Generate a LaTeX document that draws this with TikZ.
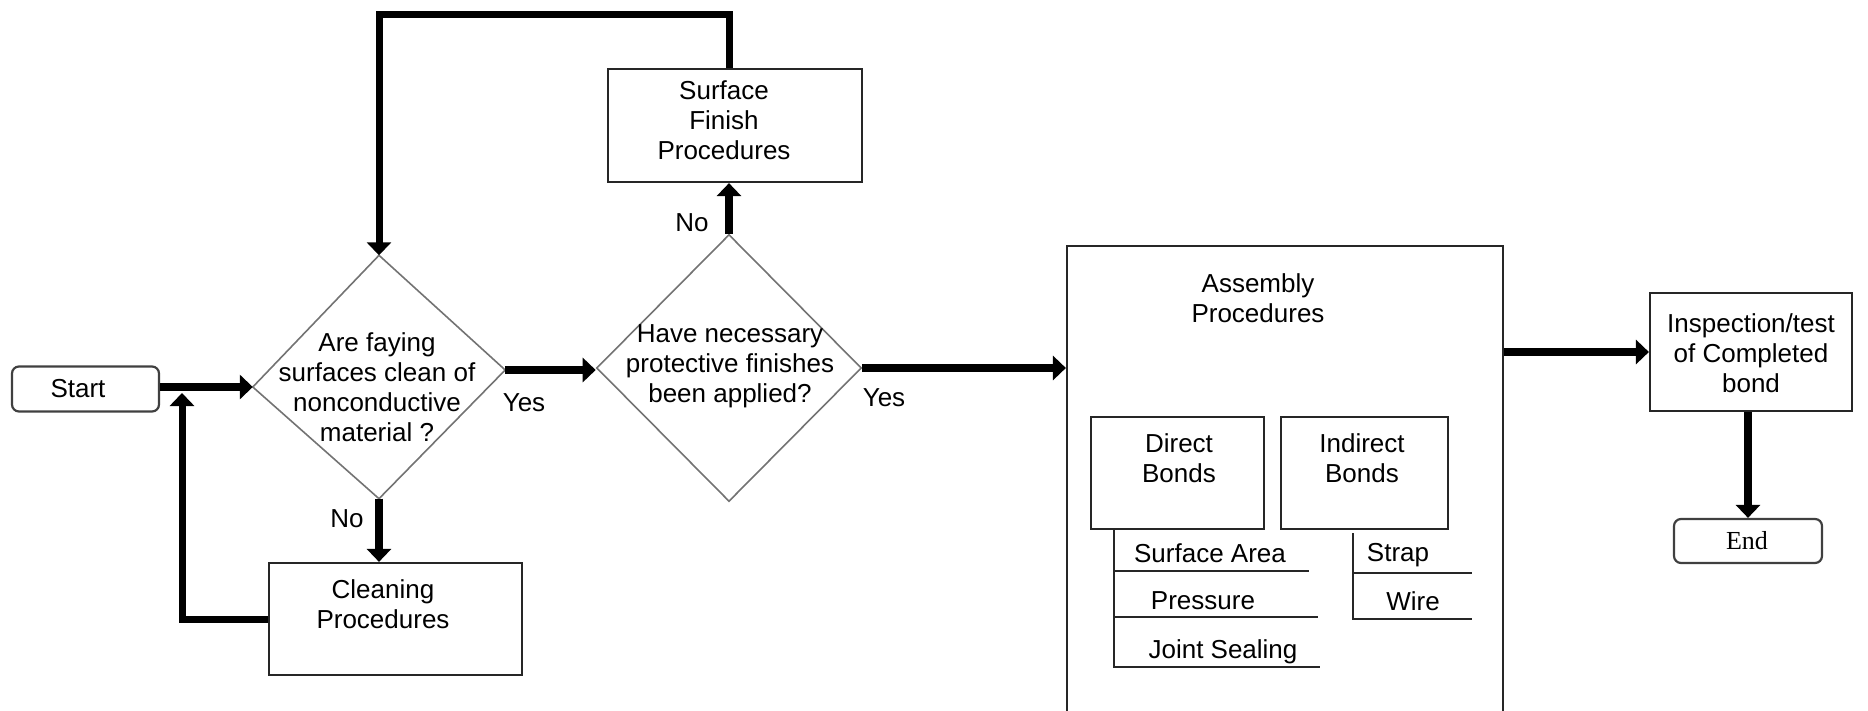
\documentclass[tikz,border=0pt]{standalone}
\usepackage{fontspec}
\setmainfont{Liberation Sans}
\newfontfamily\serifend{Liberation Serif}
\usetikzlibrary{arrows.meta,shapes.geometric}
\begin{document}
\begin{tikzpicture}[x=1pt,y=-1pt,
  txt/.style={font=\fontsize{26}{30}\selectfont, align=center, inner sep=0pt},
  box/.style={draw=black!85, line width=2.2pt, rectangle, inner sep=0pt},
  term/.style={box, draw=black!75, rounded corners=7pt},
  dia/.style={draw=black!55, line width=1.6pt, line join=miter},
  flow/.style={line width=8pt, -{Triangle[width=24pt,length=13pt]}},
  lst/.style={draw=black!85, line width=2.2pt}
]
\useasboundingbox (0,0) rectangle (1868,711);

% terminals
\node[term, minimum width=147pt, minimum height=45pt] (start) at (85.5,389) {};
\node[txt] (startt) at (78,389) {Start};
\node[term, minimum width=148pt, minimum height=44pt] (end) at (1748,541) {};
\node[txt, font=\serifend\fontsize{26}{30}\selectfont] (endt) at (1747,541) {End};

% decision 1
\node[diamond, draw=none, inner sep=0pt, minimum width=252pt, minimum height=243pt] (d1) at (379,377) {};
\coordinate (d1w) at ([yshift=-10pt]d1.west);
\coordinate (d1e) at ([yshift=7pt]d1.east);
\draw[dia] (d1w) -- (d1.north) -- (d1e) -- (d1.south) -- cycle;
\node[txt] (d1t) at (377,387) {Are faying\\surfaces clean of\\nonconductive\\material ?};

% decision 2
\node[diamond, dia, draw, inner sep=0pt, minimum width=265pt, minimum height=267pt] (d2) at (729,368) {};
\node[txt] (d2t) at (730,366) {Have necessary\\protective finishes\\been applied?};

% process boxes
\node[box, minimum width=253pt, minimum height=112pt] (clean) at (395.5,619) {};
\node[txt] (cleant) at (383,604) {Cleaning\\Procedures};
\node[box, minimum width=254pt, minimum height=113pt] (sf) at (735,125.5) {};
\node[txt] (sft) at (724,120) {Surface\\Finish\\Procedures};
\node[box, minimum width=436pt, minimum height=480pt] (asm) at (1285,486) {};
\node[txt] (asmt) at (1258,298) {Assembly\\Procedures};
\node[box, minimum width=202pt, minimum height=118pt] (insp) at (1751,352) {};
\node[txt] (inspt) at (1751,353) {Inspection/test\\of Completed\\bond};

% sub boxes
\node[box, minimum width=173pt, minimum height=112pt] (direct) at (1177.5,473) {};
\node[txt] (directt) at (1179,458) {Direct\\Bonds};
\node[box, minimum width=167pt, minimum height=112pt] (indirect) at (1364.5,473) {};
\node[txt] (indirectt) at (1362,458) {Indirect\\Bonds};

% lists
\coordinate (dl) at (1114,0);
\coordinate (il) at (1353,0);
\draw[lst] (direct.south -| dl) -- (1114,667) -- (1320,667);
\draw[lst] (1114,571) -- (1309,571);
\draw[lst] (1114,617) -- (1318,617);
\draw[lst] (1353,533) -- (1353,619) -- (1472,619);
\draw[lst] (1353,573) -- (1472,573);
\node[txt] (sa) at (1210,553) {Surface Area};
\node[txt] (pr) at (1203,601) {Pressure};
\node[txt] (js) at (1223,652) {Joint Sealing};
\node[txt] (st) at (1398,555) {Strap};
\node[txt] (wi) at (1413,601) {Wire};

% connectors
\coordinate (jn) at (182,393);
\coordinate (topy) at (0,15);
\draw[flow] (start.east |- d1w) -- (d1w);
\draw[flow] (d1e) -- (d1e -| d2.west);
\draw[flow] (d2.east) -- (d2.east -| asm.west);
\draw[flow] (insp.west -| asm.east) -- (insp.west);
\draw[flow] (end.north |- insp.south) -- (end.north);
\draw[flow] (d1.south) -- (d1.south |- clean.north);
\draw[flow] (d2.north) -- (d2.north |- sf.south);
\draw[flow, line width=7pt] (clean.west) -| (jn);
\draw[flow, line width=7pt] (sf.north -| d2.north) |- (d1.north |- topy) -- (d1.north);

% labels
\node[txt] (yes1) at (524,403) {Yes};
\node[txt] (yes2) at (884,398) {Yes};
\node[txt] (no1) at (347,519) {No};
\node[txt] (no2) at (692,223) {No};
\end{tikzpicture}
\end{document}
